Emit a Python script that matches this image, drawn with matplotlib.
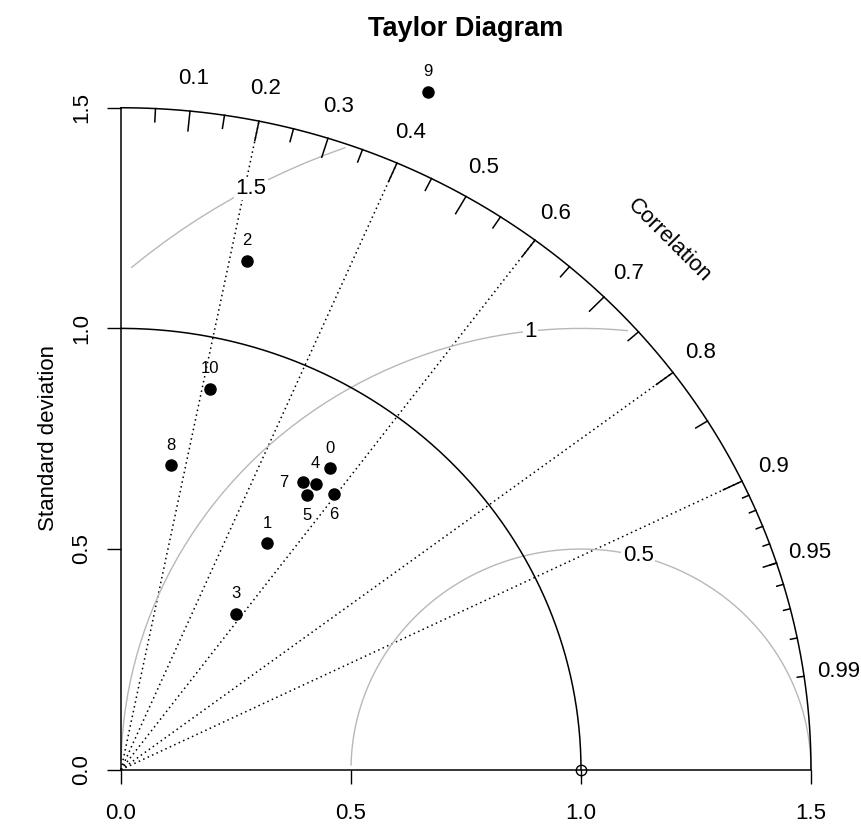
import numpy as np
import matplotlib.pyplot as plt

plt.rcParams['font.family'] = ['Liberation Sans', 'DejaVu Sans']

# model statistics (standard deviation, correlation with reference)
model_names = ['0', '1', '2', '3', '4', '5', '6', '7', '8', '9', '10']
model_sd = [0.820, 0.604, 1.185, 0.433, 0.773, 0.742, 0.777, 0.762, 0.698, 1.675, 0.885]
model_cor = [0.553, 0.527, 0.231, 0.577, 0.547, 0.545, 0.595, 0.519, 0.155, 0.398, 0.219]
name_side = ['top', 'top', 'top', 'top', 'top', 'bottom', 'bottom', 'left', 'top', 'top', 'top']

ref_sd = 1.0
maxsd = 1.5
sd_ticks = [0.0, 0.5, 1.0, 1.5]
corr_lines = [0.2, 0.4, 0.6, 0.8, 0.9]
corr_labels = [0.1, 0.2, 0.3, 0.4, 0.5, 0.6, 0.7, 0.8, 0.9, 0.95, 0.99]
gamma_levels = [0.5, 1.0, 1.5]
gamma_col = '#B8B8B8'

W, H = 862, 824
fig = plt.figure(figsize=(W / 100, H / 100), dpi=100)
ax = fig.add_axes([121 / W, (H - 769.7) / H, 1.65 * 460 / W, 1.65 * 441.3 / H])
ax.set_xlim(0, 1.65)
ax.set_ylim(0, 1.65)
for s in ['top', 'right']:
    ax.spines[s].set_visible(False)
for s in ['left', 'bottom']:
    ax.spines[s].set_bounds(0, maxsd)
    ax.spines[s].set_linewidth(1.1)
ax.set_xticks(sd_ticks)
ax.set_yticks(sd_ticks)
ax.set_xticklabels([f'{t:.1f}' for t in sd_ticks])
ax.set_yticklabels([f'{t:.1f}' for t in sd_ticks], rotation=90, va='center')
ax.tick_params(axis='both', length=10, width=1, labelsize=16)
ax.tick_params(axis='x', pad=14)
ax.tick_params(axis='y', pad=11)

# correlation rays
for c in corr_lines:
    ax.plot([0, maxsd * c], [0, maxsd * np.sqrt(1 - c ** 2)], color='black',
            lw=1.1, linestyle=(0, (1, 2.2)), zorder=1, clip_on=False)

# centered RMS contours
t = np.arange(0, np.pi, 0.03)
label_idx = [44, 56, 69]
for g, li in zip(gamma_levels, label_idx):
    xc = np.cos(t) * g + ref_sd
    yc = np.sin(t) * g
    keep = (xc >= 0) & (xc ** 2 + yc ** 2 <= maxsd ** 2 + 1e-9)
    ax.plot(xc[keep], yc[keep], color=gamma_col, lw=1, zorder=2, clip_on=False)
    ax.text(xc[li], yc[li], f'{g:g}', fontsize=16, ha='center', va='center', zorder=3,
            bbox=dict(fc='white', ec='none', pad=1.0))

# arcs
a = np.linspace(0, np.pi / 2, 200)
ax.plot(np.cos(a) * maxsd, np.sin(a) * maxsd, color='black', lw=1.1, zorder=4, clip_on=False)
ax.plot(np.cos(a) * ref_sd, np.sin(a) * ref_sd, color='black', lw=1.1, zorder=4, clip_on=False)

# ticks on outer arc
def arc_ticks(vals, frac):
    ang = np.arccos(np.array(vals))
    for an in ang:
        ax.plot([np.cos(an) * maxsd, np.cos(an) * maxsd * frac],
                [np.sin(an) * maxsd, np.sin(an) * maxsd * frac],
                color='black', lw=1.1, zorder=4, clip_on=False)

arc_ticks(np.arange(0.1, 0.91, 0.1), 0.97)
arc_ticks(np.arange(0.05, 0.96, 0.1), 0.98)
arc_ticks(np.arange(0.91, 0.995, 0.01), 0.99)

for c in corr_labels:
    an = np.arccos(c)
    ax.text(np.cos(an) * 1.05 * maxsd, np.sin(an) * 1.05 * maxsd, f'{c:g}',
            fontsize=16, ha='center', va='center', clip_on=False)
ax.text(maxsd * 0.795, maxsd * 0.8, 'Correlation', rotation=-45, fontsize=16,
        ha='center', va='center', rotation_mode='anchor')

# reference point
ax.plot([ref_sd], [0], marker='o', mfc='none', mec='black', ms=7.5, mew=1,
        zorder=5, clip_on=False)

# models
sd = np.array(model_sd)
cor = np.array(model_cor)
mx = sd * cor
my = sd * np.sqrt(1 - cor ** 2)
ax.plot(mx, my, 'o', color='black', ms=8, zorder=6, clip_on=False)
offsets = {'top': (0, 14.5, 'center', 'center'),
           'bottom': (0, -14.5, 'center', 'center'),
           'left': (-14, 0, 'center', 'center')}
for name, x, y, side in zip(model_names, mx, my, name_side):
    dx, dy, ha, va = offsets[side]
    ax.annotate(name, (x, y), xytext=(dx, dy), textcoords='offset points',
                ha=ha, va=va, fontsize=12, zorder=7)

fig.text(466 / W, 1 - 36 / H, 'Taylor Diagram', fontsize=19.5, fontweight='bold',
         ha='center', va='baseline')
fig.text(49 / W, 1 - 438 / H, 'Standard deviation', fontsize=16, rotation=90,
         ha='center', va='center')

fig.savefig('out.png', dpi=100)
